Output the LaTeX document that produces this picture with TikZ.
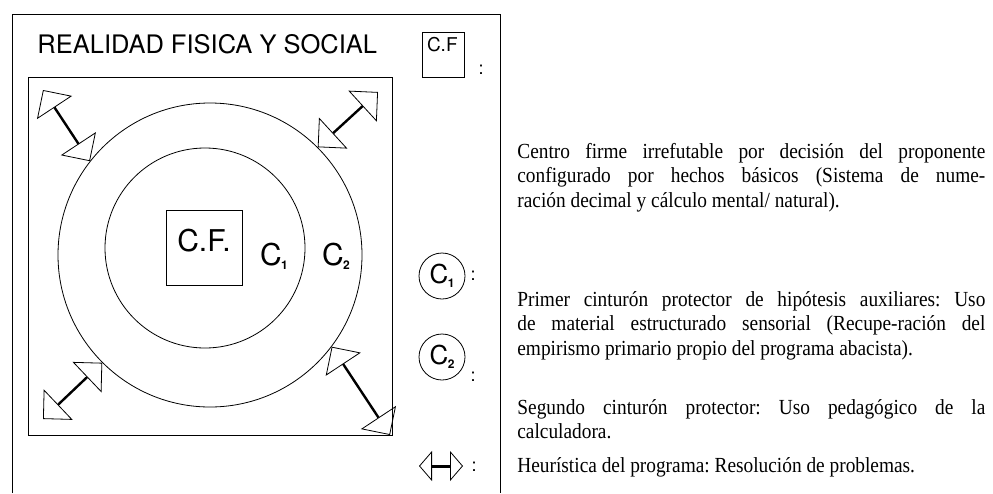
\documentclass[tikz,border=0pt]{standalone}
\usepackage{fontspec}
\setmainfont{Liberation Serif}[FakeStretch=0.9]
\newfontfamily\helv{TeX Gyre Heros}
\usetikzlibrary{positioning,arrows.meta}
\frenchspacing

% C with a small bold index, as in the rings
\newcommand\ringlbl[1]{C\kern-0.5pt\raisebox{-4pt}{\fontsize{12}{12}\selectfont\bfseries #1}}

\begin{document}
\begin{tikzpicture}[x=1pt, y=-1pt,
    line width=0.8pt,
    lbl/.style = {font=\helv\fontsize{30}{32}\selectfont, inner sep=0pt},
    keylbl/.style = {font=\helv\fontsize{19}{20}\selectfont, inner sep=0pt},
    colon/.style = {font=\helv\fontsize{18}{18}\selectfont, inner sep=0pt},
    expl/.style = {anchor=base west, text width=468pt, align=justify, inner sep=0pt,
                   font=\fontsize{21.5}{24.5}\selectfont},
    twohead/.style = {{Triangle[open, length=21pt, width=42pt, line width=0.8pt]}-{Triangle[open, length=21pt, width=42pt, line width=0.8pt]},
                      line width=2.4pt},
    keyhead/.style = {{Triangle[open, length=13pt, width=30pt, line width=0.8pt]}-{Triangle[open, length=13pt, width=30pt, line width=0.8pt]},
                      line width=3pt}
  ]
  \useasboundingbox (0,0) rectangle (993,493);

  % open frame round the diagram
  \draw (12,493) -- (12,14) -- (500,14) -- (500,493);
  \node [lbl, anchor=base west, font=\helv\fontsize{25.5}{27}\selectfont] (title) at (37,53) {REALIDAD FISICA Y SOCIAL};

  % physical and social reality
  \node [draw, minimum width=364pt, minimum height=358pt, inner sep=0pt] (campo) at (210,256) {};
  \node [draw, circle, minimum size=304pt, inner sep=0pt] (ring2) at (210,255) {};
  \node [draw, circle, minimum size=200pt, inner sep=0pt] (ring1) at (205,248) {};
  \node [draw, minimum width=76pt, minimum height=75pt, inner sep=0pt] (nucleo) at (204,247.5) {};
  \node [lbl] (nucleolbl) at ([yshift=7pt]nucleo.center) {C.F.};
  \node [lbl] (ring1lbl) at (274,256) {\ringlbl{1}};
  \node [lbl] (ring2lbl) at (336,256) {\ringlbl{2}};

  % heuristic arrows to the corners
  \coordinate (tlc) at (43,90);
  \coordinate (trc) at (378,92);
  \coordinate (blc) at (43,419);
  \coordinate (brc) at (390,435);
  \path [twohead]
    (ring2.142) edge (tlc)
    (ring2.45) edge (trc)
    (ring2.225) edge (blc)
    (ring2.-37) edge (brc);

  % key
  \node [draw, minimum width=42pt, minimum height=45pt, inner sep=0pt] (keycf) at (443,54.5) {};
  \node [keylbl, anchor=north west] (keycflbl) at ([xshift=5pt,yshift=-5pt]keycf.north west) {C.F};
  \node [colon] (colcf) at (481,70) {:};

  \node [draw, circle, minimum size=46pt, inner sep=0pt, lbl, font=\helv\fontsize{26}{28}\selectfont] (keyc1) at (442,276) {\ringlbl{1}};
  \node [colon] (colc1) at (473,276) {:};

  \node [draw, circle, minimum size=46pt, inner sep=0pt, lbl, font=\helv\fontsize{26}{28}\selectfont] (keyc2) at (442,357) {\ringlbl{2}};
  \node [colon] (colc2) at (473,377) {:};

  \coordinate (keyl) at (419,466);
  \coordinate (keyr) at (463,466);
  \path [keyhead] (keyl) edge (keyr);
  \node [colon] (colh) at (474,467) {:};

  % explanations
  \node [expl] (txtcf) at (517,158) {Centro firme irrefutable por decisión del proponente\linebreak
    configurado por hechos básicos (Sistema de nume-\linebreak
    ración decimal y cálculo mental/ natural).};
  \node [expl] (txtc1) at (517,306) {Primer cinturón protector de hipótesis auxiliares: Uso\linebreak
    de material estructurado sensorial (Recupe-ración del\linebreak
    empirismo primario propio del programa abacista).};
  \node [expl] (txtc2) at (517,414) {Segundo cinturón protector: Uso pedagógico de la\linebreak
    calculadora.};
  \node [expl] (txth) at (517,472) {Heurística del programa: Resolución de problemas.};
\end{tikzpicture}
\end{document}
